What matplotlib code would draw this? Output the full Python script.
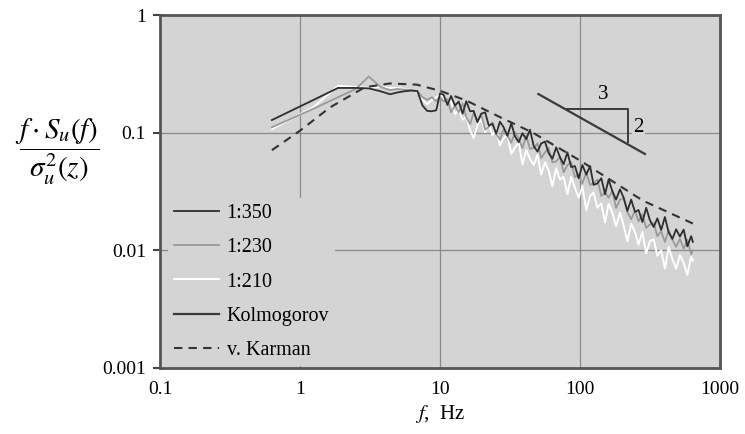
import numpy as np
import matplotlib
matplotlib.use("Agg")
import matplotlib.pyplot as plt

plt.rcParams["font.family"] = ["Liberation Serif", "DejaVu Serif"]
plt.rcParams["mathtext.fontset"] = "stix"

# low-frequency part (same bins for all three model scales)
f_low = [0.63, 1.25, 1.87, 2.5, 3.1, 3.75, 4.4, 5.0, 5.6, 6.25, 6.9, 7.5, 8.1, 8.75, 9.4, 10.0]
s350_low = [0.128, 0.19, 0.24, 0.24, 0.238, 0.225, 0.212, 0.22, 0.225, 0.228, 0.225, 0.17, 0.153, 0.152, 0.155, 0.215]
s230_low = [0.111, 0.16, 0.2, 0.235, 0.30, 0.245, 0.23, 0.235, 0.232, 0.23, 0.225, 0.2, 0.19, 0.2, 0.185, 0.2]
s210_low = [0.107, 0.165, 0.25, 0.245, 0.24, 0.245, 0.24, 0.24, 0.235, 0.23, 0.22, 0.19, 0.175, 0.19, 0.2, 0.21]

# high-frequency part
f_high = [10.6, 11.3, 12, 12.8, 13.6, 14.5, 15.4, 16.4, 17.4, 18.5, 19.7, 21, 22.3, 23.7, 25.2, 26.8,
          28.5, 30.3, 32.3, 34.3, 36.5, 38.8, 41.3, 43.9, 46.7, 49.7, 52.8, 56.2, 59.7, 63.5, 67.6, 71.9,
          76.4, 81.3, 86.5, 92, 97.8, 104, 111, 118, 125, 133, 142, 151, 160, 170, 181, 193,
          205, 218, 232, 247, 262, 279, 297, 316, 336, 357, 380, 404, 430, 457, 486, 517,
          550, 585, 622, 640]
s350_high = [0.21, 0.172, 0.205, 0.170, 0.184, 0.145, 0.185, 0.152, 0.153, 0.123, 0.145, 0.149, 0.115, 0.119, 0.098, 0.124,
             0.111, 0.094, 0.120, 0.093, 0.083, 0.099, 0.088, 0.106, 0.077, 0.069, 0.081, 0.084, 0.067, 0.060, 0.075, 0.062,
             0.054, 0.068, 0.051, 0.052, 0.041, 0.053, 0.044, 0.052, 0.036, 0.037, 0.041, 0.030, 0.040, 0.032, 0.027, 0.033,
             0.028, 0.0216, 0.027, 0.0212, 0.022, 0.0174, 0.023, 0.018, 0.0158, 0.0187, 0.0149, 0.0192, 0.0142, 0.0125, 0.0151, 0.0131,
             0.015, 0.0108, 0.0132, 0.0118]
s230_high = [0.184, 0.193, 0.149, 0.170, 0.149, 0.177, 0.136, 0.118, 0.148, 0.125, 0.142, 0.106, 0.112, 0.122, 0.098, 0.087,
             0.107, 0.095, 0.082, 0.101, 0.089, 0.074, 0.094, 0.073, 0.074, 0.081, 0.061, 0.068, 0.074, 0.056, 0.057, 0.062,
             0.046, 0.053, 0.056, 0.042, 0.044, 0.037, 0.046, 0.036, 0.037, 0.040, 0.029, 0.031, 0.028, 0.032, 0.0229, 0.027,
             0.0277, 0.0211, 0.0184, 0.0217, 0.0176, 0.0203, 0.0155, 0.0166, 0.0171, 0.0132, 0.0145, 0.0118, 0.0148, 0.0123, 0.0107, 0.0125,
             0.0103, 0.0123, 0.0093, 0.0100]
s210_high = [0.2, 0.176, 0.184, 0.144, 0.158, 0.129, 0.137, 0.105, 0.09, 0.115, 0.131, 0.101, 0.118, 0.095, 0.108, 0.078,
             0.09, 0.096, 0.066, 0.075, 0.083, 0.054, 0.071, 0.060, 0.053, 0.065, 0.044, 0.056, 0.048, 0.035, 0.050, 0.040,
             0.042, 0.030, 0.042, 0.034, 0.028, 0.035, 0.022, 0.029, 0.031, 0.023, 0.025, 0.0173, 0.0248, 0.021, 0.016, 0.0209,
             0.0162, 0.0119, 0.0168, 0.0143, 0.0112, 0.0143, 0.0094, 0.012, 0.0124, 0.009, 0.010, 0.007, 0.0107, 0.0084, 0.007, 0.0091,
             0.0078, 0.0062, 0.0088, 0.0082]

# von Karman reference spectrum
f_karman = [0.63, 1.0, 1.64, 2.9, 4.4, 6.8, 10, 15.5, 27, 46, 100, 282, 640]
s_karman = [0.071, 0.104, 0.164, 0.243, 0.262, 0.256, 0.227, 0.187, 0.135, 0.10, 0.058, 0.0264, 0.0169]

# Kolmogorov -2/3 slope line and its triangle
f_kolmo = [50.4, 291]
s_kolmo = [0.213, 0.0659]
f_tri = [80.4, 221, 221]
s_tri = [0.159, 0.159, 0.0827]

xticks = [0.1, 1, 10, 100, 1000]
xtick_labels = ["0.1", "1", "10", "100", "1000"]
yticks = [0.001, 0.01, 0.1, 1]
ytick_labels = ["0.001", "0.01", "0.1", "1"]

bg = "#d4d4d4"
fig = plt.figure(figsize=(7.45, 4.34), dpi=100)
ax = fig.add_axes([160 / 745, 1 - 368 / 434, 560 / 745, 353 / 434])
ax.set_facecolor(bg)
ax.set_xscale("log")
ax.set_yscale("log")
ax.set_xlim(0.1, 1000)
ax.set_ylim(0.001, 1)

for xv in [1, 10, 100]:
    ax.axvline(xv, color="#8a8a8a", lw=0.9, zorder=1)
for yv in [0.01, 0.1]:
    ax.axhline(yv, color="#8a8a8a", lw=0.9, zorder=1)

l210, = ax.plot(f_low + f_high, s210_low + s210_high, color="white", lw=1.4, zorder=3, label="1:210")
l230, = ax.plot(f_low + f_high, s230_low + s230_high, color="#9a9a9a", lw=1.3, zorder=4, label="1:230")
l350, = ax.plot(f_low + f_high, s350_low + s350_high, color="#2e2e2e", lw=1.3, zorder=5, label="1:350")
lk, = ax.plot(f_kolmo, s_kolmo, color="#3a3a3a", lw=1.6, zorder=5, label="Kolmogorov")
ax.plot(f_tri, s_tri, color="#3a3a3a", lw=1.4, zorder=5)
lv, = ax.plot(f_karman, s_karman, color="#333333", lw=1.5, ls=(0, (4, 3)), zorder=6, label="v. Karman")

ax.text(147, 0.175, "3", fontsize=15, ha="center", va="bottom", zorder=7)
ax.text(240, 0.111, "2", fontsize=15, ha="left", va="center", zorder=7,
        bbox=dict(facecolor=bg, edgecolor="none", pad=1))

leg = ax.legend(handles=[l350, l230, l210, lk, lv], loc="lower left", bbox_to_anchor=(0.011, 0.0),
                fontsize=14.5, frameon=True, facecolor=bg, edgecolor="none", framealpha=1,
                handlelength=2.2, handletextpad=0.4, labelspacing=0.75,
                borderaxespad=0.1, borderpad=0.3)
leg.set_zorder(8)

ax.set_xticks(xticks)
ax.set_xticklabels(xtick_labels)
ax.set_yticks(yticks)
ax.set_yticklabels(ytick_labels)
ax.minorticks_off()
ax.tick_params(axis="x", length=0, pad=9, labelsize=14)
ax.tick_params(axis="y", length=5, width=1.5, color="#444444", pad=5, labelsize=14)

for sp in ax.spines.values():
    sp.set_color("#555555")
    sp.set_linewidth(2)

ax.set_xlabel(r"$f$,  Hz", fontsize=15, labelpad=4)
ax.set_ylabel(r"$\dfrac{f\cdot S_u(f)}{\sigma_u^2(z)}$", fontsize=21, rotation=0)
ax.yaxis.set_label_coords(-0.184, 0.513)

fig.savefig("out.png", dpi=100)
